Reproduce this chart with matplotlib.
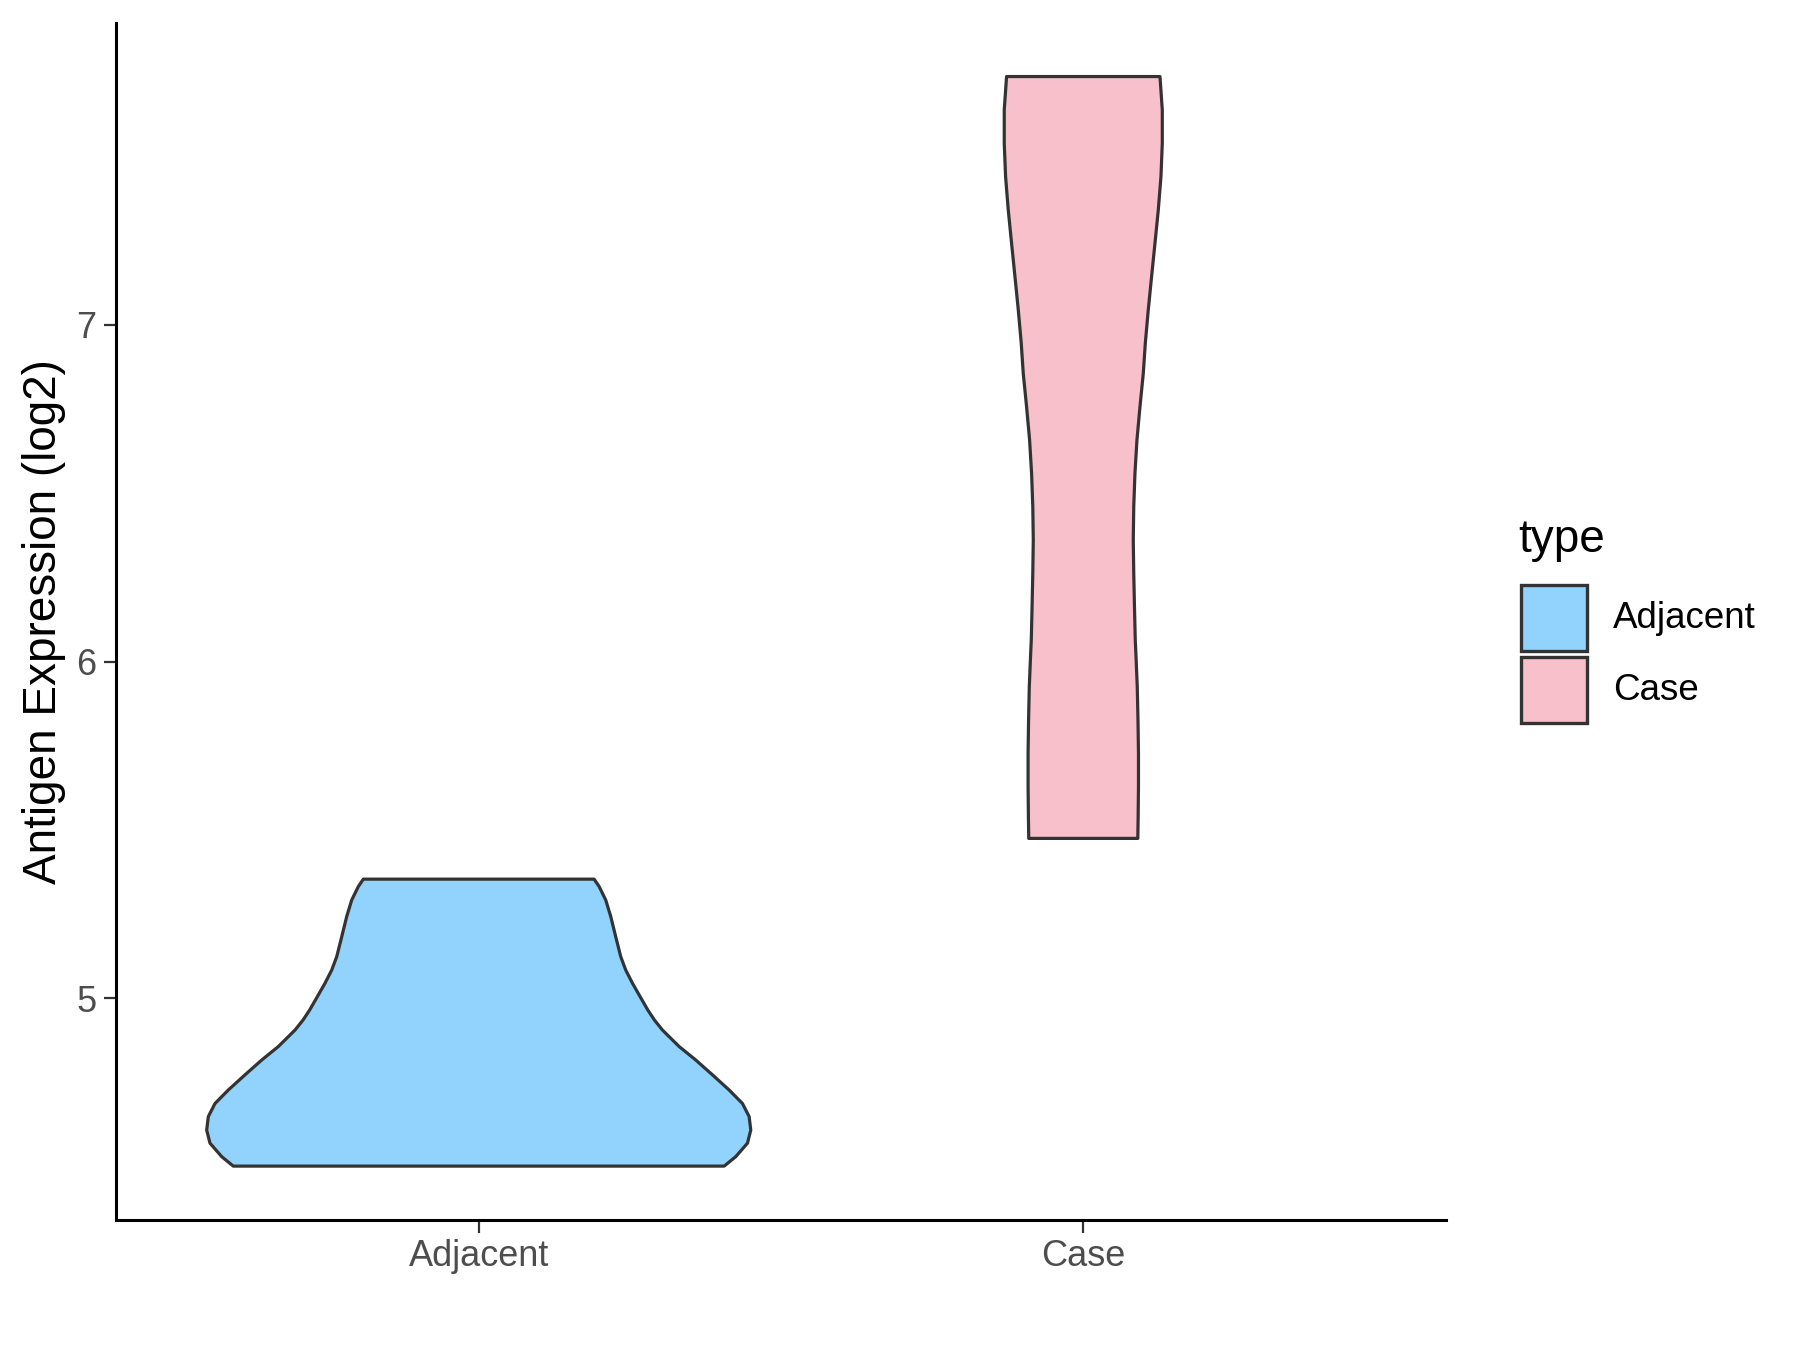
import matplotlib
matplotlib.use("Agg")
import matplotlib.pyplot as plt
from matplotlib.patches import Rectangle

plt.rcParams['font.family'] = ['Liberation Sans', 'DejaVu Sans']

# categorias y perfiles de densidad (valor, semi-ancho)
categories = ["Adjacent", "Case"]
fills = ["#92D3FE", "#F7C0CB"]

adj_y = [5.354, 5.332, 5.292, 5.243, 5.183, 5.124, 5.084, 5.045, 5.005, 4.966,
         4.936, 4.906, 4.857, 4.817, 4.773, 4.728, 4.688, 4.649, 4.609, 4.570,
         4.530, 4.502]
adj_w = [0.1909, 0.1992, 0.2101, 0.2184, 0.2266, 0.2349, 0.2432, 0.2543, 0.2670, 0.2795,
         0.2905, 0.3039, 0.3315, 0.3590, 0.3866, 0.4142, 0.4362, 0.4473, 0.4500, 0.4445,
         0.4251, 0.4060]

case_y = [7.737, 7.638, 7.539, 7.440, 7.341, 7.242, 7.143, 7.044, 6.945, 6.856,
          6.757, 6.658, 6.559, 6.460, 6.361, 6.263, 6.163, 6.064, 6.025, 5.925,
          5.826, 5.728, 5.629, 5.530, 5.475]
case_w = [0.1269, 0.1307, 0.1307, 0.1285, 0.1241, 0.1186, 0.1130, 0.1075, 0.1026, 0.0993,
          0.0938, 0.0888, 0.0855, 0.0835, 0.0827, 0.0835, 0.0847, 0.0860, 0.0870, 0.0893,
          0.0905, 0.0913, 0.0913, 0.0907, 0.0902]

profiles = [(adj_y, adj_w), (case_y, case_w)]

edge = "#333333"

fig = plt.figure(figsize=(18, 13.5), dpi=100)
ax = fig.add_axes([116 / 1800, 1 - 1220 / 1350, (1446 - 116) / 1800, (1220 - 23) / 1350])

for i, (ys, ws) in enumerate(profiles):
    xc = i + 1
    xs = [xc - w for w in ws] + [xc + w for w in reversed(ws)]
    yy = list(ys) + list(reversed(ys))
    ax.fill(xs, yy, facecolor=fills[i], edgecolor=edge, linewidth=2.3, joinstyle="round")

ax.set_xlim(0.4, 2.6)
ax.set_ylim(4.342, 7.896)
ax.set_xticks([1, 2])
ax.set_xticklabels(categories)
ax.set_yticks([5, 6, 7])
ax.set_yticklabels(["5", "6", "7"])
ax.tick_params(axis="both", length=9, width=1.6, color=edge, labelsize=26,
               labelcolor="#4D4D4D", pad=5)
for s in ["top", "right"]:
    ax.spines[s].set_visible(False)
for s in ["left", "bottom"]:
    ax.spines[s].set_linewidth(2.2)
    ax.spines[s].set_color("black")
ax.set_ylabel("Antigen Expression (log2)", fontsize=33)
ax.yaxis.set_label_coords(-0.0378, 0.5)

# leyenda
fig.text(1518 / 1800, 1 - 540 / 1350, "type", fontsize=33, va="center", ha="left")
for k, (lab, col) in enumerate(zip(categories, fills)):
    top = 585 + k * 72
    fig.add_artist(Rectangle((1521 / 1800, 1 - (top + 66) / 1350), 66 / 1800, 66 / 1350,
                             transform=fig.transFigure, facecolor=col, edgecolor=edge,
                             linewidth=2.4))
    fig.text(1613 / 1800, 1 - (top + 33) / 1350, lab, fontsize=26.5, va="center", ha="left")

fig.savefig("out.png", dpi=100)
